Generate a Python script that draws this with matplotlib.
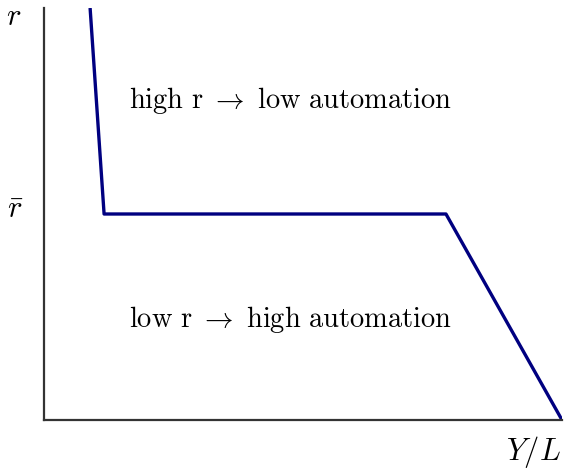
import matplotlib
matplotlib.use('Agg')
import matplotlib.pyplot as plt

plt.rcParams['mathtext.fontset'] = 'cm'
plt.rcParams['font.family'] = ['cmr10', 'DejaVu Serif']
plt.rcParams['axes.unicode_minus'] = False

# curve: r against Y/L (normalised units)
curve_x = [0.089, 0.116, 0.776, 1.0]
curve_y = [1.0, 0.5, 0.5, 0.0]
r_bar = 0.5

labels = [r'$\mathrm{high\ r}\ \rightarrow\ \mathrm{low\ automation}$',
          r'$\mathrm{low\ r}\ \rightarrow\ \mathrm{high\ automation}$']
label_y = [0.775, 0.245]

fig = plt.figure(figsize=(5.64, 4.70), dpi=100)
ax = fig.add_axes([44 / 564, 50 / 470, 518 / 564, 412 / 470])

ax.plot(curve_x, curve_y, color='#000080', linewidth=2.4, solid_capstyle='butt')

ax.set_xlim(0, 1)
ax.set_ylim(0, 1)
ax.set_xticks([])
ax.set_yticks([])
for side in ['top', 'right']:
    ax.spines[side].set_visible(False)
for side in ['left', 'bottom']:
    ax.spines[side].set_color('#333333')
    ax.spines[side].set_linewidth(1.6)

for txt, yy in zip(labels, label_y):
    ax.text(0.475, yy, txt, ha='center', va='center', fontsize=20.5, transform=ax.transAxes)

ax.text(-0.058, 0.978, '$r$', fontsize=22, ha='center', va='center', transform=ax.transAxes)
ax.text(-0.056, r_bar + 0.01, r'$\bar{r}$', fontsize=22, ha='center', va='center', transform=ax.transAxes)
ax.text(0.944, -0.078, '$Y/L$', fontsize=22, ha='center', va='center', transform=ax.transAxes)

fig.savefig('out.png', dpi=100)
